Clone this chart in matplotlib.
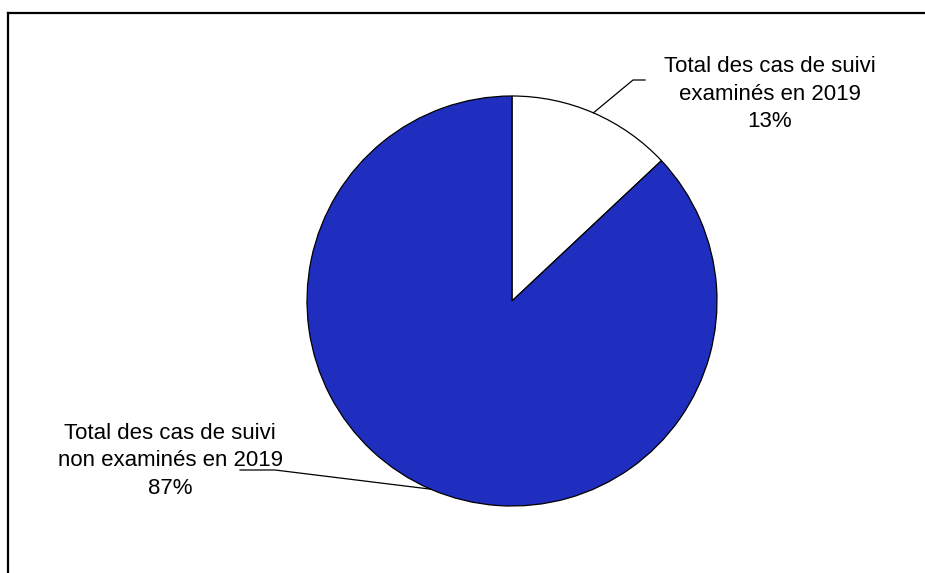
import numpy as np
import matplotlib
matplotlib.use("Agg")
import matplotlib.pyplot as plt
from matplotlib.lines import Line2D

plt.rcParams['font.family'] = ['Liberation Sans', 'DejaVu Sans']

# Data
categories = ["Total des cas de suivi\nexaminés en 2019",
              "Total des cas de suivi\nnon examinés en 2019"]
shares = [13, 87]
colors = ["#FFFFFF", "#1F2EBE"]

W, H = 925, 573
fig = plt.figure(figsize=(W / 100, H / 100), dpi=100)
ax = fig.add_axes([0, 0, 1, 1])

cx, cy, r = 512, H - 301, 205
wedges, _ = ax.pie(shares, colors=colors, startangle=90, counterclock=False,
                   center=(cx, cy), radius=r, frame=True,
                   wedgeprops=dict(edgecolor='black', linewidth=0.9))
ax.set_xlim(0, W)
ax.set_ylim(0, H)
ax.set_aspect('equal')
ax.axis('off')

# Label positions and leader-line elbows (pixel space, y measured from top)
label_pos = [(770, 94), (170, 461)]
elbows = [[(633, 80), (645, 80)], [(275, 470), (240, 470)]]

for w, share, cat, (lx, ly), elb in zip(wedges, shares, categories, label_pos, elbows):
    ang = np.deg2rad((w.theta1 + w.theta2) / 2)
    px, py = cx + r * np.cos(ang), cy + r * np.sin(ang)
    xs = [px] + [e[0] for e in elb]
    ys = [py] + [H - e[1] for e in elb]
    ax.add_line(Line2D(xs, ys, color='black', linewidth=0.9))
    ax.text(lx, H - ly, f"{cat}\n{share}%", ha='center', va='center',
            fontsize=16, linespacing=1.42, color='black')

# Frame lines along top and left edges
ax.add_line(Line2D([8, W], [H - 13, H - 13], color='black', linewidth=1.6,
                   solid_capstyle='projecting'))
ax.add_line(Line2D([8, 8], [H - 13, 0], color='black', linewidth=1.6,
                   solid_capstyle='projecting'))

fig.savefig("out.png", dpi=100)
